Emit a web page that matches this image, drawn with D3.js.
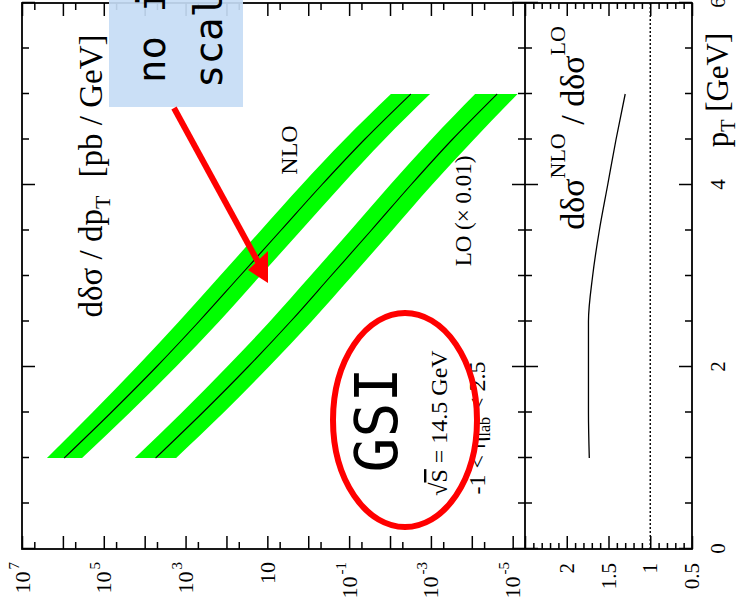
<!DOCTYPE html>
<html>
<head>
<meta charset="utf-8">
<script src="https://cdn.jsdelivr.net/npm/d3@7"></script>
<style>
  body { margin: 0; background: #fff; }
  svg { display: block; }
</style>
</head>
<body>
<svg id="chart"></svg>
<script>
// pT grid of the calculation (GeV)
let pt = [1.0, 1.5, 2.0, 2.5, 3.0, 3.5, 4.0, 4.5, 5.0];

// NLO dDelta-sigma/dpT (pb/GeV): central scale and scale band
let nlo_mid  = [9.3e5, 6.6e4, 5.2e3, 470, 47, 4.7, 0.47, 0.042, 0.0031];
let nlo_high = [2.45e6, 1.9e5, 1.58e4, 1450, 145, 14.5, 1.45, 0.129, 0.0095];
let nlo_low  = [3.4e5, 2.3e4, 1740, 151, 15.1, 1.51, 0.151, 0.0138, 0.00105];

// LO, shown multiplied by 0.01
let lo_mid  = [5400, 380, 30, 2.7, 0.28, 0.029, 0.0031, 3.0e-4, 2.4e-5];
let lo_high = [1.74e4, 1230, 98, 8.7, 0.89, 0.093, 0.010, 9.8e-4, 8.3e-5];
let lo_low  = [1700, 117, 9.3, 0.83, 0.085, 0.0089, 9.5e-4, 8.9e-5, 7.6e-6];

// K-factor NLO / LO
let ratio = [1.73, 1.74, 1.74, 1.74, 1.69, 1.61, 1.51, 1.41, 1.30];

// tick labels
let pt_labels = [0, 2, 4, 6];
let sigma_labels = [7, 5, 3, 1, -1, -3, -5];   // exponents of 10
let ratio_labels = [0.5, 1, 1.5, 2];

let w = 744, h = 609;
let serif = "'Liberation Serif', 'Times New Roman', serif";
let comic = "'Comic Sans MS', 'DejaVu Sans Mono', monospace";

let svg = d3.select("#chart").attr("width", w).attr("height", h);

// the whole figure is drawn upright and then turned 90 degrees
let g = svg.append("g").attr("transform", "translate(0," + h + ") rotate(-90)");

let x = d3.scaleLinear().domain([0, 6]).range([60, 606]);
let y = d3.scaleLog().domain([5e-6, 1e7]).range([525, 22]);
let yr = d3.scaleLinear().domain([0.5, 2.5]).range([692, 525]);

let rows = pt.map((p, i) => ({
    pt: p,
    nlo: nlo_mid[i], nloHi: nlo_high[i], nloLo: nlo_low[i],
    lo: lo_mid[i], loHi: lo_high[i], loLo: lo_low[i],
    r: ratio[i]
}));

// bands
let band = (hi, lo) => d3.area()
    .x(d => x(d.pt))
    .y0(d => y(d[lo]))
    .y1(d => y(d[hi]))
    .curve(d3.curveMonotoneX);
let line = key => d3.line()
    .x(d => x(d.pt))
    .y(d => y(d[key]))
    .curve(d3.curveMonotoneX);

g.append("path").datum(rows).attr("d", band("nloHi", "nloLo")).attr("fill", "#00ff00");
g.append("path").datum(rows).attr("d", band("loHi", "loLo")).attr("fill", "#00ff00");
g.append("path").datum(rows).attr("d", line("nlo"))
    .attr("fill", "none").attr("stroke", "#000").attr("stroke-width", 1.1);
g.append("path").datum(rows).attr("d", line("lo"))
    .attr("fill", "none").attr("stroke", "#000").attr("stroke-width", 1.1);

// ratio panel
g.append("line")
    .attr("x1", x(0)).attr("x2", x(6))
    .attr("y1", yr(1)).attr("y2", yr(1))
    .attr("stroke", "#000").attr("stroke-width", 1.4)
    .attr("stroke-dasharray", "2,2");

g.append("path").datum(rows)
    .attr("d", d3.line().x(d => x(d.pt)).y(d => yr(d.r)).curve(d3.curveMonotoneX))
    .attr("fill", "none").attr("stroke", "#000").attr("stroke-width", 1.3);

// axes helper
function ticks(axis, tx, ty) {
    let a = g.append("g")
        .attr("transform", "translate(" + tx + "," + ty + ")")
        .call(axis);
    a.select(".domain").remove();
    a.selectAll("line").attr("stroke", "#000").attr("stroke-width", 1.5);
    a.attr("font-family", serif).attr("font-size", 21);
    return a;
}

let decades = d3.range(-5, 8).map(e => Math.pow(10, e));
let fives = d3.range(-5, 7).map(e => 5 * Math.pow(10, e));
let pt_minor = d3.range(0.5, 6, 0.5).filter(v => v % 2 !== 0);
let r_major = [0.5, 1, 1.5, 2, 2.5];
let r_minor = d3.range(6, 25).map(v => v / 10).filter(v => (v * 10) % 5 !== 0);

// cross section axis (left) with 10^n labels
let left = ticks(d3.axisLeft(y).tickValues(decades).tickSize(-13).tickPadding(13)
    .tickFormat(() => ""), x(0), 0);
left.selectAll(".tick text").attr("font-size", 22).each(function(d) {
    let e = Math.round(Math.log10(d));
    if (!sigma_labels.includes(e)) return;
    let t = d3.select(this).attr("fill", "#000");
    t.append("tspan").text("10");
    if (e !== 1) {
        t.append("tspan").attr("dy", -11).attr("dx", 2).attr("font-size", 15).text(e);
    }
});
ticks(d3.axisLeft(y).tickValues(fives).tickSize(-7).tickFormat(""), x(0), 0);
ticks(d3.axisRight(y).tickValues(decades).tickSize(-13).tickFormat(""), x(6), 0);
ticks(d3.axisRight(y).tickValues(fives).tickSize(-7).tickFormat(""), x(6), 0);

// ratio axis
let rl = ticks(d3.axisLeft(yr).tickValues(r_major).tickSize(-13).tickPadding(14)
    .tickFormat(d => ratio_labels.includes(d) ? String(d) : ""), x(0), 0);
rl.selectAll("text").attr("fill", "#000");
ticks(d3.axisLeft(yr).tickValues(r_minor).tickSize(-6).tickFormat(""), x(0), 0);
ticks(d3.axisRight(yr).tickValues(r_major).tickSize(-13).tickFormat(""), x(6), 0);
ticks(d3.axisRight(yr).tickValues(r_minor).tickSize(-6).tickFormat(""), x(6), 0);

// pT axes on every horizontal edge
let bottom = ticks(d3.axisBottom(x).tickValues(pt_labels).tickSize(-13).tickPadding(18)
    .tickFormat(d3.format("d")), 0, yr(0.5));
bottom.selectAll("text").attr("fill", "#000");
ticks(d3.axisBottom(x).tickValues(pt_minor).tickSize(-7).tickFormat(""), 0, yr(0.5));
ticks(d3.axisBottom(x).tickValues(pt_labels).tickSize(13).tickFormat(""), 0, yr(2.5));
ticks(d3.axisBottom(x).tickValues(pt_minor).tickSize(7).tickFormat(""), 0, yr(2.5));
ticks(d3.axisTop(x).tickValues(pt_labels).tickSize(13).tickFormat(""), 0, yr(2.5));
ticks(d3.axisTop(x).tickValues(pt_minor).tickSize(7).tickFormat(""), 0, yr(2.5));
ticks(d3.axisBottom(x).tickValues(pt_labels).tickSize(13).tickFormat(""), 0, y(1e7));
ticks(d3.axisBottom(x).tickValues(pt_minor).tickSize(7).tickFormat(""), 0, y(1e7));

// frame
g.append("rect")
    .attr("x", x(0)).attr("y", y(1e7))
    .attr("width", x(6) - x(0)).attr("height", yr(0.5) - y(1e7))
    .attr("fill", "none").attr("stroke", "#000").attr("stroke-width", 1.8);
g.append("line")
    .attr("x1", x(0)).attr("x2", x(6)).attr("y1", yr(2.5)).attr("y2", yr(2.5))
    .attr("stroke", "#000").attr("stroke-width", 1.8);

// axis titles
let ytitle = g.append("text")
    .attr("x", 433).attr("y", 102)
    .attr("text-anchor", "middle")
    .attr("font-family", serif).attr("font-size", 33);
ytitle.append("tspan").text("d\u03b4\u03c3 / dp");
ytitle.append("tspan").attr("font-size", 22).attr("dy", 8).text("T");
ytitle.append("tspan").attr("dy", -8).attr("dx", 18).text("[pb / GeV]");

let xtitle = g.append("text")
    .attr("x", 519).attr("y", 728)
    .attr("text-anchor", "middle")
    .attr("font-family", serif).attr("font-size", 31);
xtitle.append("tspan").text("p");
xtitle.append("tspan").attr("font-size", 20).attr("dy", 7).text("T");
xtitle.append("tspan").attr("dy", -7).text(" [GeV]");

let rtitle = g.append("text")
    .attr("x", 481).attr("y", 584)
    .attr("text-anchor", "middle")
    .attr("font-family", serif).attr("font-size", 34);
rtitle.append("tspan").text("d\u03b4\u03c3");
rtitle.append("tspan").attr("font-size", 22).attr("dy", -19).text("NLO");
rtitle.append("tspan").attr("dy", 19).text(" / d\u03b4\u03c3");
rtitle.append("tspan").attr("font-size", 22).attr("dy", -19).text("LO");

// curve labels
g.append("text").attr("x", 459).attr("y", 297)
    .attr("text-anchor", "middle")
    .attr("font-family", serif).attr("font-size", 24).text("NLO");
g.append("text").attr("x", 398).attr("y", 471)
    .attr("text-anchor", "middle")
    .attr("font-family", serif).attr("font-size", 23).text("LO (\u00d7 0.01)");

let rs = g.append("text").attr("x", 186).attr("y", 447)
    .attr("text-anchor", "middle")
    .attr("font-family", serif).attr("font-size", 24);
rs.append("tspan").text("\u221a");
rs.append("tspan").attr("text-decoration", "overline").text("S");
rs.append("tspan").text(" = 14.5 GeV");

let eta = g.append("text").attr("x", 181).attr("y", 485)
    .attr("text-anchor", "middle")
    .attr("font-family", serif).attr("font-size", 24);
eta.append("tspan").text("-1 < \u03b7");
eta.append("tspan").attr("font-size", 16).attr("dy", 5).text("lab");
eta.append("tspan").attr("dy", -5).text(" < 2.5");

// overlay: comment box
g.append("rect")
    .attr("x", 502).attr("y", 109)
    .attr("width", 130).attr("height", 134)
    .attr("fill", "#c6dcf5").attr("fill-opacity", 0.92);
g.append("text").attr("x", 526).attr("y", 165)
    .attr("font-family", comic).attr("font-size", 39).text("no improvement");
g.append("text").attr("x", 521).attr("y", 222)
    .attr("font-family", comic).attr("font-size", 39).text("scale dependence");

// overlay: GSI
g.append("text").attr("x", 189).attr("y", 397)
    .attr("text-anchor", "middle")
    .attr("font-family", comic).attr("font-size", 58).text("GSI");

// overlays drawn in screen coordinates
let ov = svg.append("g");
ov.append("ellipse")
    .attr("cx", 405).attr("cy", 420).attr("rx", 72).attr("ry", 107)
    .attr("fill", "none").attr("stroke", "#ff0000").attr("stroke-width", 6);
ov.append("line")
    .attr("x1", 174).attr("y1", 108).attr("x2", 258).attr("y2", 262)
    .attr("stroke", "#ff0000").attr("stroke-width", 6);
ov.append("path")
    .attr("d", "M268,283 L248,270 L268,251 Z")
    .attr("fill", "#ff0000");
</script>
</body>
</html>
